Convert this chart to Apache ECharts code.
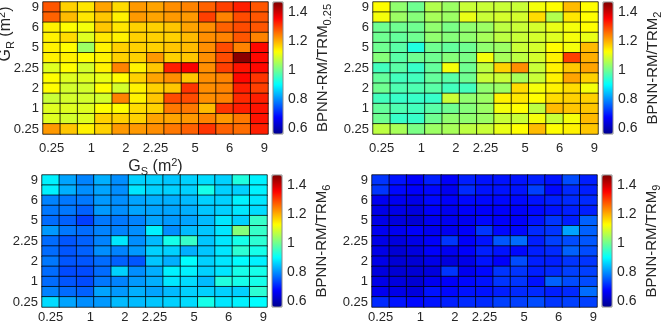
<!DOCTYPE html>
<html style="height: 100%">
<head>
    <meta charset="utf-8">
</head>
<body style="height: 100%; margin: 0">
<div id="container" style="width: 664px; height: 327px;"></div>
<script src="https://cdn.jsdelivr.net/npm/echarts@6.0.0/dist/echarts.min.js"></script>
<script type="text/javascript">
// tick labels (every other cell is labelled)
var gsTicks = ['0.25', '1', '2', '2.25', '5', '6', '9'];
var grTicks = ['0.25', '1', '2', '2.25', '5', '6', '9'];
var barTicks = [0.6, 0.8, 1, 1.2, 1.4];
var panelSubs = ['0.25', '2', '6', '9'];

// ratio values, rows listed from top (G_R = 9) to bottom (G_R = 0.25)
var ratio025 = [
    [1.28,1.17,1.15,1.21,1.16,1.22,1.21,1.23,1.24,1.27,1.30,1.33,1.28],
    [1.27,1.19,1.15,1.18,1.14,1.22,1.21,1.22,1.22,1.30,1.24,1.29,1.28],
    [1.14,1.13,1.12,1.18,1.15,1.17,1.17,1.18,1.21,1.23,1.27,1.29,1.28],
    [1.14,1.16,1.10,1.15,1.14,1.17,1.17,1.17,1.19,1.23,1.24,1.28,1.24],
    [1.14,1.13,1.04,1.14,1.17,1.17,1.17,1.18,1.19,1.23,1.29,1.24,1.35],
    [1.14,1.14,1.13,1.14,1.17,1.17,1.22,1.17,1.18,1.23,1.29,1.46,1.35],
    [1.10,1.13,1.09,1.14,1.24,1.14,1.18,1.33,1.36,1.23,1.30,1.34,1.35],
    [1.13,1.10,1.10,1.11,1.13,1.17,1.21,1.23,1.18,1.23,1.24,1.35,1.31],
    [1.13,1.09,1.09,1.13,1.09,1.14,1.17,1.18,1.31,1.23,1.24,1.33,1.30],
    [1.08,1.09,1.09,1.09,1.24,1.14,1.18,1.29,1.29,1.23,1.24,1.32,1.33],
    [1.10,1.10,1.10,1.13,1.13,1.16,1.17,1.25,1.25,1.19,1.31,1.33,1.34],
    [1.10,1.09,1.10,1.17,1.17,1.17,1.21,1.21,1.22,1.24,1.22,1.25,1.34],
    [1.22,1.18,1.14,1.17,1.22,1.22,1.23,1.25,1.27,1.31,1.27,1.26,1.33]
];
var ratio2 = [
    [1.13,1.03,1.00,1.06,1.04,1.08,1.08,1.08,1.08,1.12,1.13,1.19,1.13],
    [1.12,1.04,1.02,1.05,1.04,1.11,1.08,1.09,1.09,1.16,1.06,1.15,1.13],
    [1.00,1.00,1.00,1.03,1.01,1.03,1.04,1.07,1.08,1.09,1.11,1.12,1.13],
    [1.00,0.99,1.00,1.03,1.02,1.03,1.05,1.07,1.08,1.09,1.10,1.12,1.11],
    [1.00,0.98,0.93,1.00,0.99,1.00,1.03,1.04,1.08,1.09,1.13,1.12,1.19],
    [1.02,0.98,1.00,1.00,1.02,1.01,1.12,1.05,1.07,1.09,1.14,1.30,1.20],
    [0.96,0.98,0.95,0.99,1.12,1.00,1.07,1.17,1.23,1.08,1.14,1.18,1.21],
    [0.99,0.96,0.96,0.99,0.98,1.00,1.08,1.08,1.05,1.08,1.14,1.21,1.17],
    [1.00,0.97,0.97,0.98,0.96,0.96,1.03,1.04,1.16,1.12,1.14,1.16,1.12],
    [0.96,0.95,0.95,0.95,1.08,1.03,1.04,1.14,1.15,1.13,1.16,1.17,1.17],
    [0.99,0.97,0.96,0.98,1.00,1.02,1.04,1.12,1.13,1.07,1.19,1.18,1.18],
    [1.00,0.95,0.95,1.00,1.03,1.03,1.04,1.08,1.08,1.12,1.08,1.12,1.19],
    [1.07,1.05,1.01,1.04,1.05,1.07,1.08,1.11,1.13,1.19,1.13,1.14,1.18]
];
var ratio6 = [
    [0.89,0.82,0.79,0.83,0.80,0.86,0.86,0.85,0.86,0.87,0.86,0.93,0.89],
    [0.89,0.83,0.80,0.82,0.80,0.88,0.86,0.86,0.86,0.92,0.86,0.86,0.89],
    [0.79,0.78,0.78,0.81,0.80,0.82,0.83,0.83,0.84,0.86,0.86,0.89,0.88],
    [0.78,0.78,0.76,0.81,0.80,0.82,0.82,0.82,0.83,0.85,0.86,0.88,0.87],
    [0.77,0.76,0.73,0.78,0.78,0.79,0.82,0.81,0.82,0.84,0.88,0.86,0.95],
    [0.81,0.78,0.77,0.79,0.79,0.80,0.89,0.80,0.84,0.85,0.88,1.02,0.95],
    [0.77,0.75,0.76,0.79,0.88,0.80,0.84,0.92,0.95,0.85,0.88,0.92,0.94],
    [0.77,0.75,0.76,0.80,0.79,0.81,0.86,0.86,0.83,0.85,0.88,0.94,0.92],
    [0.78,0.75,0.75,0.77,0.76,0.75,0.85,0.83,0.90,0.86,0.88,0.90,0.89],
    [0.77,0.74,0.74,0.77,0.86,0.80,0.83,0.89,0.89,0.86,0.88,0.92,0.92],
    [0.77,0.75,0.74,0.78,0.79,0.81,0.83,0.88,0.87,0.84,0.93,0.92,0.92],
    [0.79,0.77,0.76,0.82,0.81,0.83,0.82,0.84,0.86,0.86,0.86,0.86,0.94],
    [0.87,0.82,0.80,0.81,0.84,0.84,0.85,0.86,0.87,0.92,0.88,0.89,0.90]
];
var ratio9 = [
    [0.72,0.69,0.67,0.70,0.67,0.70,0.69,0.69,0.69,0.70,0.69,0.74,0.70],
    [0.72,0.68,0.67,0.68,0.66,0.71,0.69,0.69,0.69,0.73,0.68,0.71,0.70],
    [0.66,0.66,0.65,0.68,0.67,0.68,0.68,0.68,0.68,0.69,0.70,0.71,0.71],
    [0.65,0.65,0.64,0.67,0.66,0.67,0.67,0.67,0.67,0.68,0.69,0.70,0.70],
    [0.65,0.64,0.63,0.66,0.66,0.66,0.68,0.67,0.67,0.69,0.72,0.70,0.76],
    [0.66,0.66,0.67,0.66,0.66,0.67,0.72,0.68,0.68,0.71,0.72,0.82,0.76],
    [0.65,0.64,0.65,0.67,0.72,0.67,0.69,0.75,0.77,0.70,0.73,0.74,0.75],
    [0.65,0.63,0.64,0.67,0.66,0.67,0.70,0.69,0.68,0.70,0.71,0.76,0.74],
    [0.65,0.63,0.63,0.65,0.64,0.65,0.69,0.67,0.74,0.70,0.70,0.72,0.72],
    [0.64,0.63,0.63,0.64,0.72,0.66,0.68,0.72,0.72,0.70,0.71,0.73,0.73],
    [0.65,0.64,0.63,0.66,0.67,0.68,0.69,0.72,0.72,0.69,0.76,0.74,0.74],
    [0.66,0.65,0.64,0.69,0.68,0.69,0.69,0.70,0.71,0.71,0.70,0.71,0.77],
    [0.71,0.69,0.68,0.69,0.70,0.71,0.71,0.73,0.73,0.74,0.72,0.73,0.73]
];

var panels = [ratio025, ratio2, ratio6, ratio9];
var cbMin = 0.56, cbMax = 1.47;
var jet = ['#00008f', '#0000ff', '#0080ff', '#00ffff', '#80ff80', '#ffff00', '#ff8000', '#ff0000', '#800000'];
var font = 'Liberation Sans, Arial, Helvetica, sans-serif';
var txt = '#262626';

function spread(ticks) {
    var out = [];
    for (var i = 0; i < ticks.length * 2 - 1; i++) {
        out.push(i % 2 === 0 ? ticks[i / 2] : '');
    }
    return out;
}
var xCats = spread(gsTicks);
var yCats = spread(grTicks);

// panel positions [left, top]
var pos = [[43, 2], [373, 2], [42, 175], [372, 175]];
var plotW = 225, plotH = 132;

var grids = [], xAxes = [], yAxes = [], series = [], vmaps = [];
panels.forEach(function (rows, k) {
    var data = [];
    for (var r = 0; r < rows.length; r++) {
        for (var c = 0; c < rows[r].length; c++) {
            data.push([c, rows.length - 1 - r, rows[r][c]]);
        }
    }
    grids.push({left: pos[k][0], top: pos[k][1], width: plotW, height: plotH});
    xAxes.push({
        type: 'category', gridIndex: k, data: xCats,
        axisTick: {show: false}, axisLine: {show: false}, splitLine: {show: false},
        axisLabel: {interval: 0, margin: k < 2 ? 8 : 4, fontSize: 13, fontFamily: font, color: txt,
            // short labels sit a little right of the cell centre, as in the original
            formatter: function (v) { return v.length === 1 ? '{a|' + v + '}' : v; },
            rich: {a: {fontSize: 13, fontFamily: font, color: txt, padding: [0, 0, 0, 10]}}},
        name: k === 0 ? 'G{s|S} (m{p|2})' : '', nameLocation: 'middle', nameGap: 22,
        nameTextStyle: {fontSize: 16, fontFamily: font, color: txt,
            rich: {s: {fontSize: 11, fontFamily: font, color: txt, padding: [10, 0, 0, 0]},
                   p: {fontSize: 11, fontFamily: font, color: txt, padding: [0, 0, 8, 0]}}}
    });
    yAxes.push({
        type: 'category', gridIndex: k, data: yCats,
        axisTick: {show: false}, axisLine: {show: false}, splitLine: {show: false},
        axisLabel: {interval: 0, margin: 4, fontSize: 13, fontFamily: font, color: txt}
    });
    series.push({
        type: 'heatmap', xAxisIndex: k, yAxisIndex: k, data: data,
        itemStyle: {borderColor: 'rgba(0,0,0,0.75)', borderWidth: 1},
        emphasis: {disabled: true}
    });
    vmaps.push({
        type: 'continuous', seriesIndex: k, min: cbMin, max: cbMax,
        inRange: {color: jet}, calculable: false, showLabel: false, padding: 0,
        itemWidth: 10, itemHeight: plotH,
        left: pos[k][0] + plotW + 5, top: pos[k][1]
    });
});

// colorbar axes
panels.forEach(function (rows, k) {
    var g = 4 + k;
    grids.push({left: pos[k][0] + plotW + 5, top: pos[k][1], width: 10, height: plotH,
        show: true, borderColor: '#8c8c8c', borderWidth: 1, backgroundColor: 'transparent', z: 10});
    xAxes.push({type: 'value', gridIndex: g, show: false, min: 0, max: 1});
    yAxes.push({
        type: 'value', gridIndex: g, position: 'right', min: cbMin, max: cbMax,
        axisLine: {show: false}, splitLine: {show: false},
        axisTick: {show: false},
        axisLabel: {customValues: barTicks, margin: 5, fontSize: 14, fontFamily: font, color: txt},
        name: 'BPNN-RM/TRM{s|' + panelSubs[k] + '}', nameLocation: 'middle', nameRotate: 90, nameGap: 29,
        nameTextStyle: {fontSize: 15, fontFamily: font, color: txt,
            rich: {s: {fontSize: 11, fontFamily: font, color: txt, padding: [10, 0, 0, 0]}}}
    });
});

var chart = echarts.init(document.getElementById('container'));
chart.setOption({
    backgroundColor: '#ffffff',
    animation: false,
    grid: grids,
    xAxis: xAxes,
    yAxis: yAxes,
    visualMap: vmaps,
    series: series,
    graphic: [{
        type: 'text', x: 16, y: 34, rotation: Math.PI / 2,
        style: {text: 'G{s|R} (m{p|2})', fontSize: 16, fontFamily: font, fill: txt,
            align: 'center', verticalAlign: 'bottom',
            rich: {s: {fontSize: 11, fontFamily: font, fill: txt, padding: [10, 0, 0, 0]},
                   p: {fontSize: 11, fontFamily: font, fill: txt, padding: [0, 0, 8, 0]}}}
    }]
});
</script>
</body>
</html>
